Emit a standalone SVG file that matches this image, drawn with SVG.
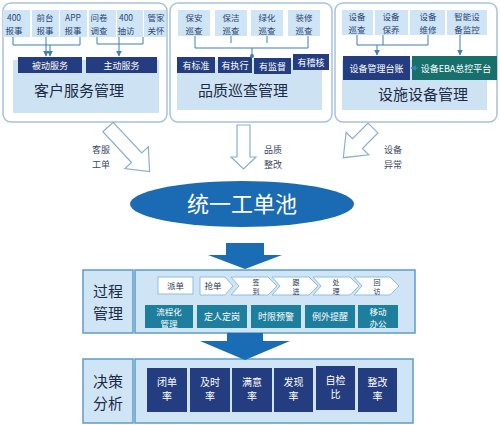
<svg xmlns="http://www.w3.org/2000/svg" width="500" height="425" viewBox="0 0 500 425">
<defs>
<style>
text{font-family:"Noto Sans CJK SC","Noto Sans",sans-serif;}
.panel{fill:#fff;stroke:#a7c3dc;stroke-width:1.5;}
.inner{fill:#cde3f4;}
.cell{fill:#cfe5f6;}
.ct{font-size:8.5px;fill:#2b4775;text-anchor:middle;}
.navy{fill:#243c80;}
.teal{fill:#1e7e9e;}
.green{fill:#17706c;}
.wt{font-size:9px;fill:#fff;text-anchor:middle;}
.ws{font-size:8.5px;fill:#fff;text-anchor:middle;}
.title{font-size:15px;fill:#1c2a45;text-anchor:middle;}
.ln{fill:none;stroke:#3d7fb8;stroke-width:1;}
.hollow{fill:#fff;stroke:#8aaed0;stroke-width:1.2;}
.lbl{font-size:9px;fill:#3a4a66;text-anchor:middle;}
.big{fill:#1a6db5;}
.sec{fill:#cfe5f6;stroke:#5e9cc9;stroke-width:1.5;}
.sect{font-size:15px;fill:#1c2a45;text-anchor:middle;}
.chev{fill:#fff;stroke:#8fbfe0;stroke-width:1;}
.cht{font-size:8.5px;fill:#2b3a55;text-anchor:middle;}
.chs{font-size:7px;fill:#2b3a55;text-anchor:middle;}
.wb{font-size:10px;fill:#fff;text-anchor:middle;}
</style>
<marker id="ah" viewBox="0 0 10 10" refX="9" refY="5" markerWidth="6" markerHeight="6" orient="auto"><path d="M0,0 L10,5 L0,10 z" fill="#3d7fb8"/></marker>
</defs>
<rect width="500" height="425" fill="#fff"/>

<!-- Panel 1 -->
<g id="panel-customer">
<rect class="panel" x="3" y="3" width="164" height="119" rx="8"/>
<rect class="inner" x="13" y="60" width="146" height="53"/>
<rect class="navy" x="18" y="57" width="64" height="16"/>
<text class="wt" x="50" y="68.5">被动服务</text>
<rect class="navy" x="86" y="57" width="71" height="16"/>
<text class="wt" x="121.5" y="68.5">主动服务</text>
<text class="title" x="79" y="96">客户服务管理</text>
</g>
<g id="c1-400"><rect class="cell" x="3" y="10" width="27" height="27"/><text class="ct" x="14" y="21">400</text><text class="ct" x="14" y="33.5">报事</text></g>
<g id="c1-qt"><rect class="cell" x="32" y="10" width="27" height="27"/><text class="ct" x="45" y="21">前台</text><text class="ct" x="45" y="33.5">报事</text></g>
<g id="c1-app"><rect class="cell" x="60" y="10" width="27" height="27"/><text class="ct" x="73" y="21">APP</text><text class="ct" x="73" y="33.5">报事</text></g>
<g id="c1-wj"><rect class="cell" x="89" y="10" width="27" height="27"/><text class="ct" x="99" y="21">问卷</text><text class="ct" x="99" y="33.5">调查</text></g>
<g id="c1-cf"><rect class="cell" x="117" y="10" width="26" height="27"/><text class="ct" x="126" y="21">400</text><text class="ct" x="126" y="33.5">抽访</text></g>
<g id="c1-gj"><rect class="cell" x="144" y="10" width="22" height="27"/><text class="ct" x="156" y="21">管家</text><text class="ct" x="156" y="33.5">关怀</text></g>

<!-- Panel 2 -->
<g id="panel-quality">
<rect class="panel" x="170" y="3" width="162" height="119" rx="8"/>
<rect class="inner" x="177" y="60" width="145" height="50"/>
<rect class="navy" x="177" y="57" width="38" height="16"/>
<text class="wt" x="196" y="68.5">有标准</text>
<rect class="navy" x="218" y="57" width="34" height="16"/>
<text class="wt" x="235" y="68.5">有执行</text>
<rect class="navy" x="254" y="58" width="37" height="16"/>
<text class="wt" x="272.5" y="69.5">有监督</text>
<rect class="navy" x="293" y="54" width="36" height="16"/>
<text class="wt" x="311" y="65.5">有稽核</text>
<text class="title" x="243" y="96">品质巡查管理</text>
</g>
<g id="c2-ba"><rect class="cell" x="178" y="10" width="32" height="26"/><text class="ct" x="194" y="21">保安</text><text class="ct" x="194" y="33.5">巡查</text></g>
<g id="c2-bj"><rect class="cell" x="215" y="10" width="32" height="26"/><text class="ct" x="231" y="21">保洁</text><text class="ct" x="231" y="33.5">巡查</text></g>
<g id="c2-lh"><rect class="cell" x="251" y="10" width="32" height="26"/><text class="ct" x="267" y="21">绿化</text><text class="ct" x="267" y="33.5">巡查</text></g>
<g id="c2-zx"><rect class="cell" x="288" y="10" width="32" height="26"/><text class="ct" x="304" y="21">装修</text><text class="ct" x="304" y="33.5">巡查</text></g>

<!-- Panel 3 -->
<g id="panel-facility">
<rect class="panel" x="335" y="3" width="162" height="119" rx="8"/>
<rect class="inner" x="342" y="60" width="145" height="50"/>
<rect class="navy" x="343" y="56" width="67" height="24"/>
<text class="wt" x="376.5" y="71.5">设备管理台账</text>
<rect class="green" x="412" y="56" width="85" height="24"/>
<text class="wt" x="456" y="71.5">设备EBA总控平台</text>
<text class="title" x="423" y="100">设施设备管理</text>
</g>
<g id="c3-xc"><rect class="cell" x="342" y="10" width="31" height="25"/><text class="ct" x="357" y="20">设备</text><text class="ct" x="357" y="32.5">巡查</text></g>
<g id="c3-by"><rect class="cell" x="375" y="10" width="33" height="25"/><text class="ct" x="391" y="20">设备</text><text class="ct" x="391" y="32.5">保养</text></g>
<g id="c3-wx"><rect class="cell" x="410" y="10" width="35" height="25"/><text class="ct" x="428" y="20">设备</text><text class="ct" x="428" y="32.5">维修</text></g>
<g id="c3-jk"><rect class="cell" x="447" y="10" width="40" height="25"/><text class="ct" x="467" y="20">智能设</text><text class="ct" x="467" y="32.5">备监控</text></g>

<!-- Ellipse -->
<g id="pool">
<ellipse cx="242" cy="204" rx="112" ry="23" fill="#1a6bb3"/>
<text x="242" y="212" font-size="22" fill="#fff" text-anchor="middle">统一工单池</text>
</g>

<!-- Process section -->
<g id="process-label">
<rect class="sec" x="83" y="270" width="50" height="63"/>
<text class="sect" x="108" y="297">过程</text>
<text class="sect" x="108" y="319">管理</text>
</g>
<g id="process">
<rect class="sec" x="135" y="270" width="280" height="63"/>
</g>
<g id="s-pd"><rect class="chev" x="158" y="277" width="35" height="17"/><text class="cht" x="175.5" y="289">派单</text></g>
<g id="s-qd"><polygon class="chev" points="200,277 225,277 233,286 225,295 200,295"/><text class="cht" x="213" y="289">抢单</text></g>
<g id="s-qdao"><polygon class="chev" points="231,277 268,277 277,286 268,295 231,295 239,286"/><text class="chs" x="256" y="284.5">签</text><text class="chs" x="256" y="294">到</text></g>
<g id="s-gj"><polygon class="chev" points="272,277 309,277 318,286 309,295 272,295 280,286"/><text class="chs" x="296" y="284.5">跟</text><text class="chs" x="296" y="294">进</text></g>
<g id="s-cl"><polygon class="chev" points="313,277 350,277 359,286 350,295 313,295 321,286"/><text class="chs" x="336" y="284.5">处</text><text class="chs" x="336" y="294">理</text></g>
<g id="s-hf"><polygon class="chev" points="354,277 390,277 399,286 390,295 354,295 362,286"/><text class="chs" x="377" y="284.5">回</text><text class="chs" x="377" y="294">访</text></g>
<g id="p-lch"><rect class="teal" x="145" y="305" width="48" height="23"/><text class="ws" x="169" y="315">流程化</text><text class="ws" x="169" y="326.5">管理</text></g>
<g id="p-drdg"><rect class="teal" x="197" y="305" width="50" height="23"/><text class="wt" x="222" y="320">定人定岗</text></g>
<g id="p-sxyj"><rect class="teal" x="251" y="305" width="50" height="23"/><text class="wt" x="276" y="320">时限预警</text></g>
<g id="p-lwtx"><rect class="teal" x="305" y="305" width="50" height="23"/><text class="wt" x="330" y="320">例外提醒</text></g>
<g id="p-yd"><rect class="teal" x="358" y="305" width="40" height="23"/><text class="ws" x="378" y="315">移动</text><text class="ws" x="378" y="326.5">办公</text></g>

<!-- Decision section -->
<g id="decision-label">
<rect class="sec" x="83" y="359" width="50" height="64"/>
<text class="sect" x="108" y="387">决策</text>
<text class="sect" x="108" y="409">分析</text>
</g>
<g id="decision">
<rect class="sec" x="135" y="359" width="278" height="64"/>
</g>
<g id="d-bd"><rect class="navy" x="147" y="368" width="40" height="44"/><text class="wb" x="167" y="386">闭单</text><text class="wb" x="167" y="400">率</text></g>
<g id="d-js"><rect class="navy" x="190" y="368" width="40" height="44"/><text class="wb" x="210" y="386">及时</text><text class="wb" x="210" y="400">率</text></g>
<g id="d-my"><rect class="navy" x="232" y="368" width="40" height="44"/><text class="wb" x="252" y="386">满意</text><text class="wb" x="252" y="400">率</text></g>
<g id="d-fx"><rect class="navy" x="274" y="368" width="39" height="44"/><text class="wb" x="293.5" y="386">发现</text><text class="wb" x="293.5" y="400">率</text></g>
<g id="d-zj"><rect class="navy" x="316" y="366" width="39" height="44"/><text class="wb" x="335.5" y="384">自检</text><text class="wb" x="335.5" y="398">比</text></g>
<g id="d-zg"><rect class="navy" x="358" y="368" width="39" height="44"/><text class="wb" x="377.5" y="386">整改</text><text class="wb" x="377.5" y="400">率</text></g>

<!-- Connectors -->
<g id="connectors">
<polyline class="ln" points="13,37 13,45 80,45 80,37"/>
<line class="ln" x1="46" y1="37" x2="46" y2="56" marker-end="url(#ah)"/>
<line class="ln" x1="50" y1="45" x2="50" y2="56" marker-end="url(#ah)"/>
<polyline class="ln" points="97,37 97,44 143,44 143,37"/>
<line class="ln" x1="119" y1="37" x2="119" y2="56" marker-end="url(#ah)"/>

<polyline class="ln" points="195,36 195,48 308,48 308,36"/>
<line class="ln" x1="231" y1="36" x2="231" y2="43"/>
<line class="ln" x1="267" y1="36" x2="267" y2="43"/>
<line class="ln" x1="252" y1="48" x2="252" y2="56"/>
<circle cx="252" cy="56" r="2" fill="#3d7fb8"/>

<polyline class="ln" points="357,35 357,45 428,45 428,35"/>
<line class="ln" x1="383" y1="35" x2="383" y2="45"/>
<line class="ln" x1="377" y1="45" x2="377" y2="55" marker-end="url(#ah)"/>
<line class="ln" x1="460" y1="35" x2="460" y2="55" marker-end="url(#ah)"/>
<line class="ln" x1="418" y1="68" x2="411" y2="68" marker-end="url(#ah)"/>

<polygon class="hollow" transform="translate(108,127) rotate(-43)" points="-7,0 7,0 7,42 16,42 0,61 -16,42 -7,42"/>
<polygon class="hollow" points="237,125 250,125 250,157 256,157 243.5,169 231,157 237,157"/>
<polygon class="hollow" transform="translate(373,128) rotate(45)" points="-7,0 7,0 7,22 16,22 0,42 -16,22 -7,22"/>

<polygon class="big" points="226,243 264,243 264,255 282,255 245,269 208,255 226,255"/>
<polygon class="big" points="227,333 263,333 263,341 290,341 245,360 200,341 227,341"/>
</g>
<g id="labels">
<text class="lbl" x="101" y="153">客服</text>
<text class="lbl" x="101" y="168">工单</text>
<text class="lbl" x="273" y="153">品质</text>
<text class="lbl" x="273" y="168">整改</text>
<text class="lbl" x="393" y="153">设备</text>
<text class="lbl" x="393" y="168">异常</text>
</g>
</svg>
